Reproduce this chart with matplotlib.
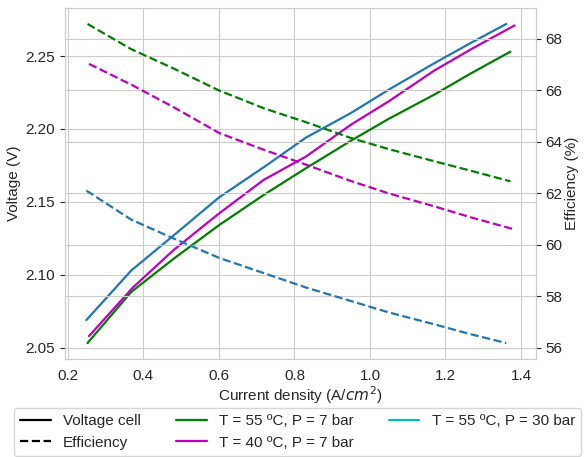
import matplotlib
matplotlib.use("Agg")
import matplotlib.pyplot as plt
import seaborn as sns
from matplotlib.lines import Line2D

sns.set_style("whitegrid")
plt.rcParams['font.family'] = ['Liberation Sans', 'DejaVu Sans']
plt.rcParams['font.size'] = 11

# T = 55 ºC, P = 7 bar
x_55_7 = [0.252, 0.368, 0.48, 0.60, 0.72, 0.83, 0.95, 1.05, 1.17, 1.27, 1.372]
v_55_7 = [2.0532, 2.0883, 2.111, 2.134, 2.155, 2.173, 2.192, 2.207, 2.2235, 2.2385, 2.253]
e_55_7 = [68.58, 67.6, 66.85, 66.0, 65.3, 64.77, 64.15, 63.72, 63.25, 62.87, 62.47]

# T = 40 ºC, P = 7 bar
x_40_7 = [0.256, 0.371, 0.48, 0.60, 0.718, 0.83, 0.95, 1.05, 1.17, 1.27, 1.383]
v_40_7 = [2.058, 2.091, 2.117, 2.142, 2.165, 2.181, 2.203, 2.219, 2.240, 2.255, 2.271]
e_40_7 = [67.03, 66.2, 65.35, 64.35, 63.7, 63.12, 62.48, 62.0, 61.5, 61.06, 60.6]

# T = 55 ºC, P = 30 bar
x_55_30 = [0.249, 0.368, 0.48, 0.60, 0.72, 0.83, 0.95, 1.05, 1.17, 1.26, 1.361]
v_55_30 = [2.069, 2.103, 2.127, 2.153, 2.174, 2.194, 2.211, 2.227, 2.245, 2.258, 2.272]
e_55_30 = [62.11, 60.98, 60.25, 59.5, 58.9, 58.35, 57.82, 57.38, 56.92, 56.56, 56.19]

fig = plt.figure(figsize=(5.87, 4.57), dpi=100)
ax = fig.add_axes([0.1107, 0.2144, 0.8024, 0.7681])
ax2 = ax.twinx()

ax.plot(x_55_7, v_55_7, color='green', lw=1.6)
ax.plot(x_40_7, v_40_7, color='m', lw=1.6)
ax.plot(x_55_30, v_55_30, color='tab:blue', lw=1.6)

ax2.plot(x_55_7, e_55_7, color='green', ls='--', lw=1.6)
ax2.plot(x_40_7, e_40_7, color='m', ls='--', lw=1.6)
ax2.plot(x_55_30, e_55_30, color='tab:blue', ls='--', lw=1.6)

ax.set_xlabel('Current density (A/$cm^2$)', labelpad=1)
ax.set_ylabel('Voltage (V)', labelpad=3)
ax2.set_ylabel('Efficiency (%)', labelpad=2)

handles = [
    Line2D([], [], color='black', ls='-', lw=1.6),
    Line2D([], [], color='black', ls='--', lw=1.6),
    Line2D([], [], color='green', lw=1.6),
    Line2D([], [], color='m', lw=1.6),
    Line2D([], [], color='c', lw=1.6),
]
labels = ['Voltage cell', 'Efficiency', 'T = 55 ºC, P = 7 bar',
          'T = 40 ºC, P = 7 bar', 'T = 55 ºC, P = 30 bar']
fig.legend(handles, labels, loc='upper center', bbox_to_anchor=(0.507, 0.124),
           ncol=3, frameon=True, fontsize=11, columnspacing=2.3)

fig.savefig('out.png', dpi=100)
